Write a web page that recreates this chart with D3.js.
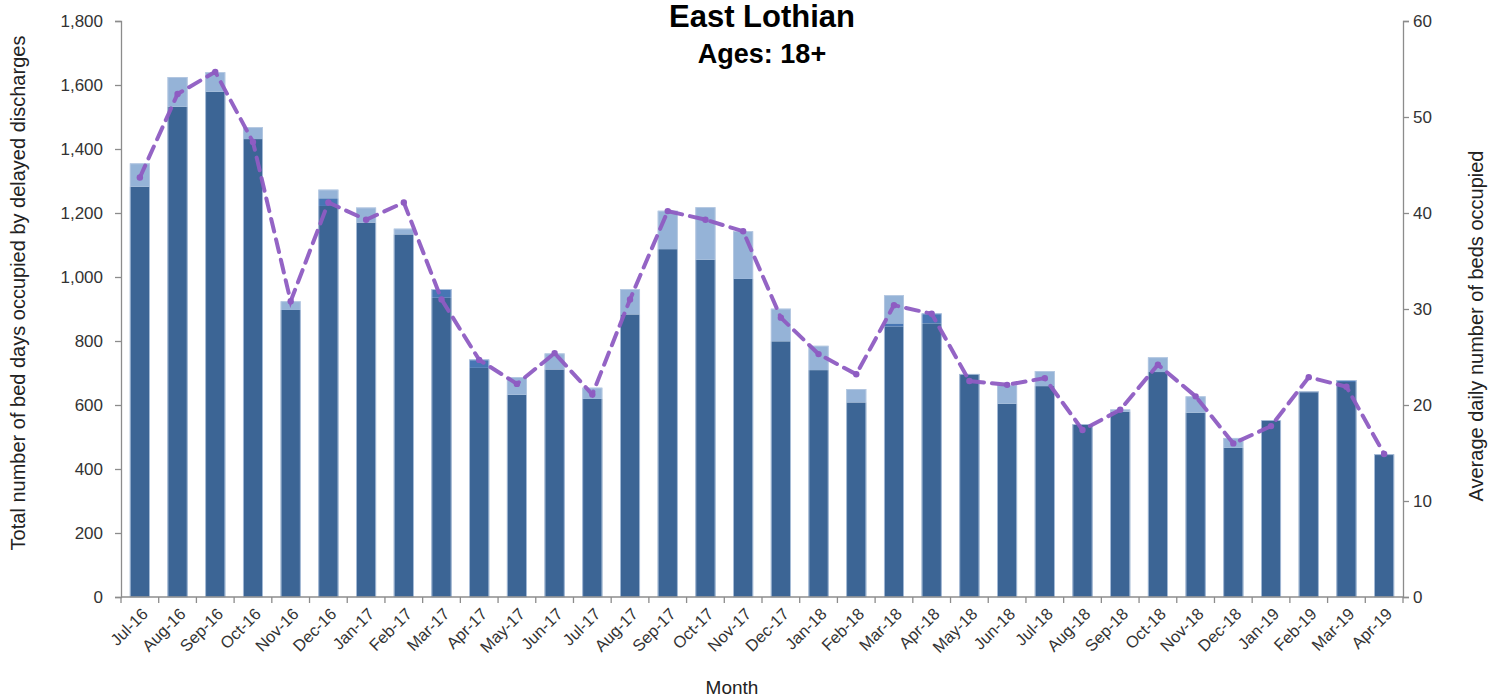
<!DOCTYPE html>
<html>
<head>
<meta charset="utf-8">
<script src="https://cdn.jsdelivr.net/npm/d3@7/dist/d3.min.js"></script>
<style>
  html, body { margin: 0; padding: 0; background: #fff; }
  svg { display: block; font-family: "Liberation Sans", Arial, sans-serif; }
</style>
</head>
<body>
<svg id="chart" width="1500" height="698"></svg>
<script>
// ---- Data ----
const months = ["Jul-16","Aug-16","Sep-16","Oct-16","Nov-16","Dec-16","Jan-17","Feb-17","Mar-17","Apr-17","May-17","Jun-17",
  "Jul-17","Aug-17","Sep-17","Oct-17","Nov-17","Dec-17","Jan-18","Feb-18","Mar-18","Apr-18","May-18","Jun-18",
  "Jul-18","Aug-18","Sep-18","Oct-18","Nov-18","Dec-18","Jan-19","Feb-19","Mar-19","Apr-19"];
const darkSeries  = [1282,1532,1579,1431,897,1222,1170,1133,935,716,632,711,619,883,1087,1054,994,799,709,608,845,855,697,604,659,540,579,703,576,466,553,642,672,446];
const midSeries   = [0,0,0,0,0,24,0,0,27,26,0,0,0,0,0,0,0,0,0,0,10,31,0,0,0,0,0,0,0,0,0,0,6,0];
const lightSeries = [73,93,61,37,27,27,47,18,0,0,55,50,35,79,120,164,149,102,76,42,88,0,0,58,47,0,7,46,51,31,0,0,0,0];
const avgDaily    = [43.7,52.4,54.7,47.4,30.8,41.1,39.3,41.1,31.0,24.7,22.2,25.4,21.1,31.0,40.2,39.3,38.1,29.1,25.3,23.2,30.4,29.5,22.5,22.1,22.8,17.4,19.5,24.2,20.9,16.0,17.8,22.9,21.9,14.9];
const leftTicks  = [0,200,400,600,800,1000,1200,1400,1600,1800];
const rightTicks = [0,10,20,30,40,50,60];

// ---- Layout ----
const W = 1500, H = 698;
const m = {left: 121, right: 97, top: 21, bottom: 101};
const x0 = m.left, x1 = W - m.right, y0 = H - m.bottom, y1 = m.top;
const svg = d3.select("#chart");

const x = d3.scaleBand().domain(months).range([x0, x1]).paddingInner(0.47).paddingOuter(0.235);
const xb = d3.scaleBand().domain(months).range([x0, x1]).padding(0);
const yL = d3.scaleLinear().domain([0, 1800]).range([y0, y1]);
const yR = d3.scaleLinear().domain([0, 60]).range([y0, y1]);

const colors = {dark: "#3c6595", mid: "#4776b4", light: "#95b3d7"};
const rows = months.map((mo, i) => ({mo, dark: darkSeries[i], mid: midSeries[i], light: lightSeries[i]}));
const stack = d3.stack().keys(["dark","mid","light"])(rows);

const gBars = svg.append("g");
stack.forEach(layer => {
  gBars.selectAll(null).data(layer.filter(d => d[1] - d[0] > 0)).join("rect")
    .attr("x", d => x(d.data.mo))
    .attr("width", x.bandwidth())
    .attr("y", d => yL(d[1]))
    .attr("height", d => yL(d[0]) - yL(d[1]))
    .attr("fill", colors[layer.key]);
});
gBars.selectAll(null).data(rows).join("rect")
  .attr("x", d => x(d.mo) + 0.4)
  .attr("width", x.bandwidth() - 0.8)
  .attr("y", d => yL(d.dark + d.mid + d.light) + 0.4)
  .attr("height", d => y0 - yL(d.dark + d.mid + d.light) - 0.4)
  .attr("fill", "none").attr("stroke", "#b9cbe3").attr("stroke-width", 0.8);

// ---- Axes ----
const axisColor = "#8c8c8c", textColor = "#333333";
const gL = svg.append("g").attr("transform", `translate(${x0},0)`)
  .call(d3.axisLeft(yL).tickValues(leftTicks).tickSize(6).tickPadding(12).tickFormat(d3.format(",")));
const gR = svg.append("g").attr("transform", `translate(${x1},0)`)
  .call(d3.axisRight(yR).tickValues(rightTicks).tickSize(6).tickPadding(4));
[gL, gR].forEach(g => {
  g.select(".domain").attr("stroke", axisColor).attr("stroke-width", 1.3);
  g.selectAll(".tick line").attr("stroke", axisColor).attr("stroke-width", 1.3);
  g.selectAll(".tick text").attr("fill", textColor).attr("font-size", 17).attr("font-family", '"Liberation Sans", Arial, sans-serif');
});

const gX = svg.append("g");
gX.append("line").attr("x1", x0).attr("x2", x1).attr("y1", y0).attr("y2", y0)
  .attr("stroke", axisColor).attr("stroke-width", 1.3);
const bounds = months.map(mo => xb(mo)).concat([x1]);
gX.selectAll(null).data(bounds).join("line")
  .attr("x1", d => d).attr("x2", d => d).attr("y1", y0).attr("y2", y0 + 6)
  .attr("stroke", axisColor).attr("stroke-width", 1.3);
gX.selectAll(null).data(months).join("text")
  .attr("transform", d => `translate(${xb(d) + xb.bandwidth()/2 + 5},${y0 + 14}) rotate(-45)`)
  .attr("text-anchor", "end").attr("dy", "0.35em")
  .attr("font-size", 16.5).attr("fill", textColor).text(d => d);

// ---- Line ----
const line = d3.line().x((d, i) => xb(months[i]) + xb.bandwidth()/2).y(d => yR(d));
const purple = "#8e5cc2";
svg.append("path").datum(avgDaily).attr("d", line)
  .attr("fill", "none").attr("stroke", purple).attr("stroke-width", 4)
  .attr("stroke-dasharray", "13,8").attr("stroke-linecap", "round").attr("opacity", 0.95);
svg.append("g").selectAll("circle").data(avgDaily).join("circle")
  .attr("cx", (d, i) => xb(months[i]) + xb.bandwidth()/2).attr("cy", d => yR(d))
  .attr("r", 3.2).attr("fill", purple);

// ---- Titles ----
svg.append("text").attr("x", 762).attr("y", 27).attr("text-anchor", "middle")
  .attr("font-size", 31).attr("font-weight", "bold").attr("fill", "#000").text("East Lothian");
svg.append("text").attr("x", 762).attr("y", 63).attr("text-anchor", "middle")
  .attr("font-size", 27).attr("font-weight", "bold").attr("fill", "#000").text("Ages: 18+");
svg.append("text").attr("transform", `translate(25,293) rotate(-90)`)
  .attr("text-anchor", "middle").attr("font-size", 20).attr("fill", "#222")
  .text("Total number of bed days occupied by delayed discharges");
svg.append("text").attr("transform", `translate(1483,326) rotate(-90)`)
  .attr("text-anchor", "middle").attr("font-size", 20).attr("fill", "#222")
  .text("Average  daily number of beds occupied");
svg.append("text").attr("x", 732).attr("y", 694).attr("text-anchor", "middle")
  .attr("font-size", 19).attr("fill", "#222").text("Month");
</script>
</body>
</html>
